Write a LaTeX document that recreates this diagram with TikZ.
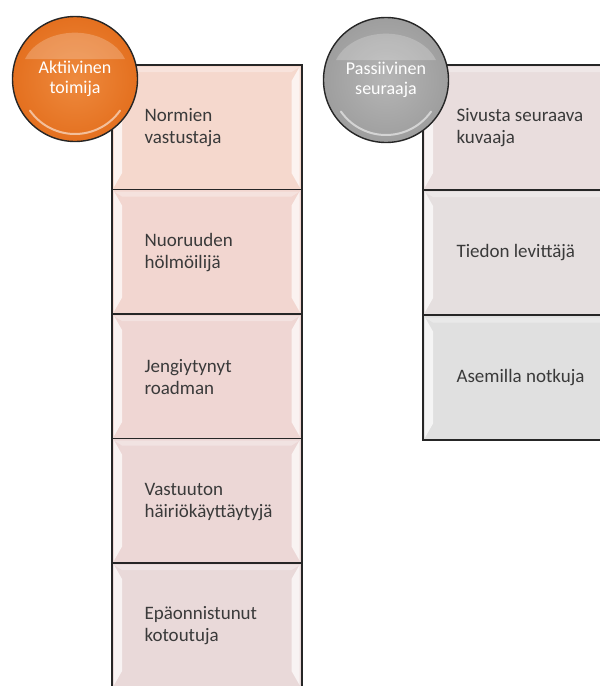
\documentclass[tikz,border=0pt]{standalone}
\usepackage{fontspec}
\setmainfont{Carlito}
\usetikzlibrary{calc}
\definecolor{bA}{HTML}{F5D8CD}
\definecolor{bB}{HTML}{F2D6D0}
\definecolor{bC}{HTML}{EFD6D3}
\definecolor{bD}{HTML}{ECD7D6}
\definecolor{bE}{HTML}{E9D9D9}
\definecolor{rA}{HTML}{E9DDDD}
\definecolor{rB}{HTML}{E5DFDF}
\definecolor{rC}{HTML}{E0E0E0}
\definecolor{orangeball}{HTML}{E4701F}
\definecolor{orangelight}{HTML}{EE8A3E}
\definecolor{grayball}{HTML}{9E9E9E}
\definecolor{graylight}{HTML}{B5B5B5}
\definecolor{txt}{HTML}{3A3A3A}
\tikzset{
  cellbox/.style={draw=black!85, line width=1.6pt, minimum width=190pt, minimum height=124.5pt, anchor=north west, inner sep=0pt},
  celltext/.style={anchor=west, align=left, font=\fontsize{19}{22}\selectfont, text=txt},
  ballnode/.style={circle, draw=black!85, line width=1.4pt, minimum size=125pt, inner sep=0pt, align=center, font=\fontsize{18}{20}\selectfont, text=white},
  gloss/.style={white, opacity=0.55, line width=2pt, line cap=round},
}
\newcommand{\bevel}[1]{%
  \fill[white, opacity=0.7] ($(#1.north west)+(3,3)$) -- ($(#1.north west)+(11,17)$) -- ($(#1.south west)+(11,-17)$) -- ($(#1.south west)+(3,-3)$) -- cycle;
  \fill[white, opacity=0.7] ($(#1.north east)+(-3,3)$) -- ($(#1.north east)+(-11,17)$) -- ($(#1.south east)+(-11,-17)$) -- ($(#1.south east)+(-3,-3)$) -- cycle;
  \fill[white, opacity=0.3] ($(#1.north west)+(3,3)$) -- ($(#1.north east)+(-3,3)$) -- ($(#1.north east)+(-11,8)$) -- ($(#1.north west)+(11,8)$) -- cycle;
}
\newcommand{\ballgloss}[1]{%
  \fill[white, opacity=0.22] ($(#1.center)+(-50,-20)$) arc[start angle=200, end angle=340, x radius=53.2, y radius=40] -- cycle;
  \draw[gloss] ($(#1.center)+(35:55)$) arc[start angle=35, end angle=145, radius=55];
}
\begin{document}
\begin{tikzpicture}[x=1pt,y=-1pt]
\useasboundingbox (0,0) rectangle (600,686);
\clip (0,0) rectangle (600,686);
% left column
\node[cellbox, fill=bA] (l1) at (111,64) {};
\node[cellbox, fill=bB] (l2) at (111,188.5) {};
\node[cellbox, fill=bC] (l3) at (111,313) {};
\node[cellbox, fill=bD] (l4) at (111,437.5) {};
\node[cellbox, fill=bE] (l5) at (111,562) {};
\bevel{l1}\bevel{l2}\bevel{l3}\bevel{l4}\bevel{l5}
\node[celltext] (t1) at (141,128) {Normien\\vastustaja};
\node[celltext] (t2) at (141,253) {Nuoruuden\\hölmöilijä};
\node[celltext] (t3) at (141,377) {Jengiytynyt\\roadman};
\node[celltext] (t4) at (141,502) {Vastuuton\\häiriökäyttäytyjä};
\node[celltext] (t5) at (141,626) {Epäonnistunut\\kotoutuja};
% right column
\node[cellbox, fill=rA] (r1) at (422,64) {};
\node[cellbox, fill=rB] (r2) at (422,189) {};
\node[cellbox, fill=rC] (r3) at (422,314.5) {};
\bevel{r1}\bevel{r2}\bevel{r3}
\node[celltext] (s1) at (453,128) {Sivusta seuraava\\kuvaaja};
\node[celltext] (s2) at (453,253) {Tiedon levittäjä};
\node[celltext] (s3) at (453,378) {Asemilla notkuja};
% balls
\node[ballnode, inner color=orangelight, outer color=orangeball] (b1) at (75,79) {};
\ballgloss{b1}
\node[ballnode, draw=none, fill=none] (b1t) at (b1.center) {Aktiivinen\\toimija};
\node[ballnode, inner color=graylight, outer color=grayball] (b2) at (386,80) {};
\ballgloss{b2}
\node[ballnode, draw=none, fill=none] (b2t) at (b2.center) {Passiivinen\\seuraaja};
\end{tikzpicture}
\end{document}
